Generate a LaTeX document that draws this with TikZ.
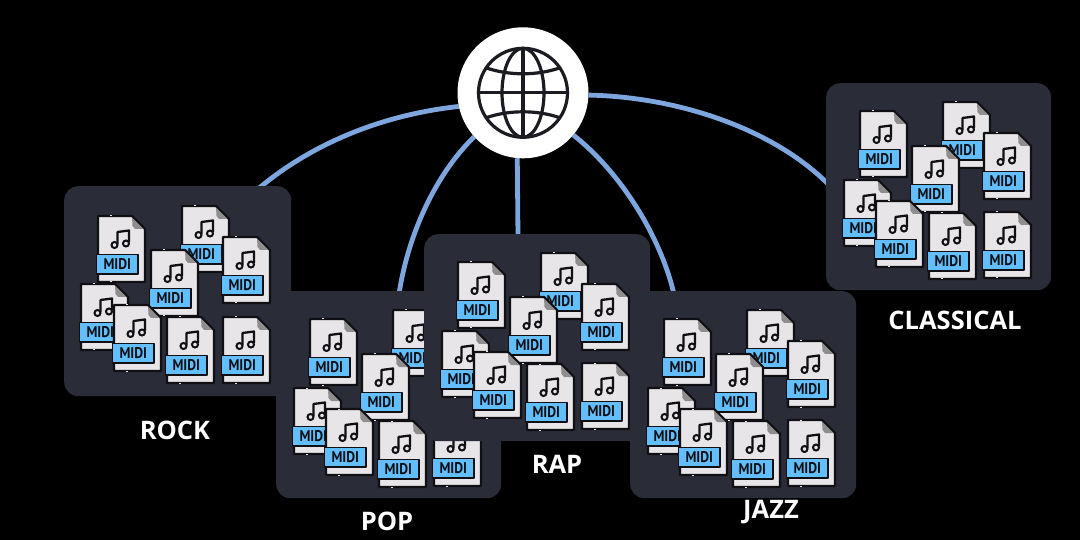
\documentclass[tikz,border=0pt]{standalone}
\usepackage{fontspec}
\usetikzlibrary{calc}
\setmainfont{Open Sans}
\newfontfamily\midifont{PT Sans}
\definecolor{panelc}{HTML}{2A2C38}
\definecolor{linkc}{HTML}{7EA6DE}
\definecolor{inkc}{HTML}{101014}
\definecolor{paperc}{HTML}{E8E5E8}
\definecolor{foldc}{HTML}{8F8D8D}
\definecolor{tagc}{HTML}{62BEFC}
\definecolor{globec}{HTML}{1B1B22}
\pgfdeclarelayer{edges}
\pgfsetlayers{edges,main}
\tikzset{
  x=1pt,y=-1pt,
  panel/.style 2 args={fill=panelc,rounded corners=14pt,anchor=north west,inner sep=0pt,minimum width=#1,minimum height=#2},
  genre/.style={text=white,font=\fontsize{25.5}{25.5}\selectfont\bfseries,inner sep=0pt},
  link/.style={draw=linkc,line width=4.8pt},
  midifile/.pic={
    \draw[fill=paperc,draw=inkc,line width=2.2pt,line join=round] (0,0) -- (34,0) -- (47,13) -- (47,66) -- (0,66) -- cycle;
    \fill[foldc] (34,1) -- (46,13) -- (37,13) -- (34.5,10) -- cycle;
    \draw[inkc,line width=1.6pt,line join=round] (34,0) -- (47,13);
    \draw[paperc,line width=1pt] (11.5,0) -- (13.5,0) (11.5,66) -- (13.5,66);
    \draw[inkc,line width=2.3pt,line join=round] (19.5,28) -- (19.5,16) -- (31,14.5) -- (31,26);
    \draw[inkc,line width=2pt,fill=paperc] (16.5,29) circle (3) (28,27.5) circle (3);
    \draw[fill=tagc,draw=inkc,line width=1.9pt,line join=round] (-1.5,38.5) rectangle (40,58);
    \node[inner sep=0pt,text=inkc,xscale=.88,font=\midifont\bfseries\fontsize{15.5}{15.5}\selectfont] (-tag) at (19.3,48.3) {MIDI};
  }
}
\newcommand{\fullset}{1/34/30,2/118/20,3/159/51,4/87/64,5/17/98,6/50/119,7/103/131,8/159/131}
\newcommand{\popset}{1/34/28,2/117/19,4/86/63,5/18/97,6/50/118,7/103/130,8/158/129}
\newcommand{\adjset}{1/34/28,2/117/19,3/158/50,4/86/63,5/18/97,6/50/118,7/103/130,8/158/129}
\begin{document}
\begin{tikzpicture}
\path[use as bounding box] (0,0) rectangle (1080,540);
\begin{pgfonlayer}{edges}
\fill[black] (0,0) rectangle (1080,540);
\end{pgfonlayer}
% panels and files
\node[panel={227pt}{210pt}] (rock) at (64,186) {};
\foreach \i/\dx/\dy in \fullset {\pic (rock\i) at (64+\dx,186+\dy) {midifile};}
\node[panel={225pt}{207pt}] (pop) at (276,291) {};
\foreach \i/\dx/\dy in \popset {\pic (pop\i) at (276+\dx,291+\dy) {midifile};}
\node[panel={226pt}{207pt}] (rap) at (424,234) {};
\foreach \i/\dx/\dy in \adjset {\pic (rap\i) at (424+\dx,234+\dy) {midifile};}
\node[panel={226pt}{207pt}] (jazz) at (630,291) {};
\foreach \i/\dx/\dy in \adjset {\pic (jazz\i) at (630+\dx,291+\dy) {midifile};}
\node[panel={225pt}{207pt}] (classical) at (826,83) {};
\foreach \i/\dx/\dy in \adjset {\pic (classical\i) at (826+\dx,83+\dy) {midifile};}
% labels
\node[genre] (rocktext) at (175,430) {ROCK};
\node[genre] (poptext) at (387,521) {POP};
\node[genre] (raptext) at (557,464) {RAP};
\node[genre] (jazztext) at (771,512) {JAZZ};
\node[genre] (classicaltext) at (955,320) {CLASSICAL};
% globe
\node[circle,fill=white,inner sep=0pt,minimum size=131pt] (globe) at (523,92.8) {};
\begin{scope}[shift={(globe.center)},globec,line width=3.2pt]
\draw (0,0) circle (44.5);
\draw (0,0) ellipse (21 and 44.5);
\draw (0,-44.5) -- (0,44.5) (-44.5,0) -- (44.5,0);
\draw (-37,-25) .. controls (-14,-17) and (14,-17) .. (37,-25);
\draw (-37,25) .. controls (-14,17) and (14,17) .. (37,25);
\end{scope}
% connectors
\begin{pgfonlayer}{edges}
\draw[link] (globe.192) .. controls (380,115) and (310,145) .. ($(rock.north west)+(194,3)$);
\draw[link] (globe.222) .. controls (435,175) and (408,235) .. ($(pop.north west)+(123,3)$);
\draw[link] (globe.265) -- ($(rap.north west)+(94,3)$);
\draw[link] (globe.320) .. controls (620,172) and (660,235) .. ($(jazz.north west)+(44,3)$);
\draw[link] (globe.358) .. controls (680,97) and (775,130) .. ($(classical.north west)+(3,102)$);
\end{pgfonlayer}
\end{tikzpicture}
\end{document}
